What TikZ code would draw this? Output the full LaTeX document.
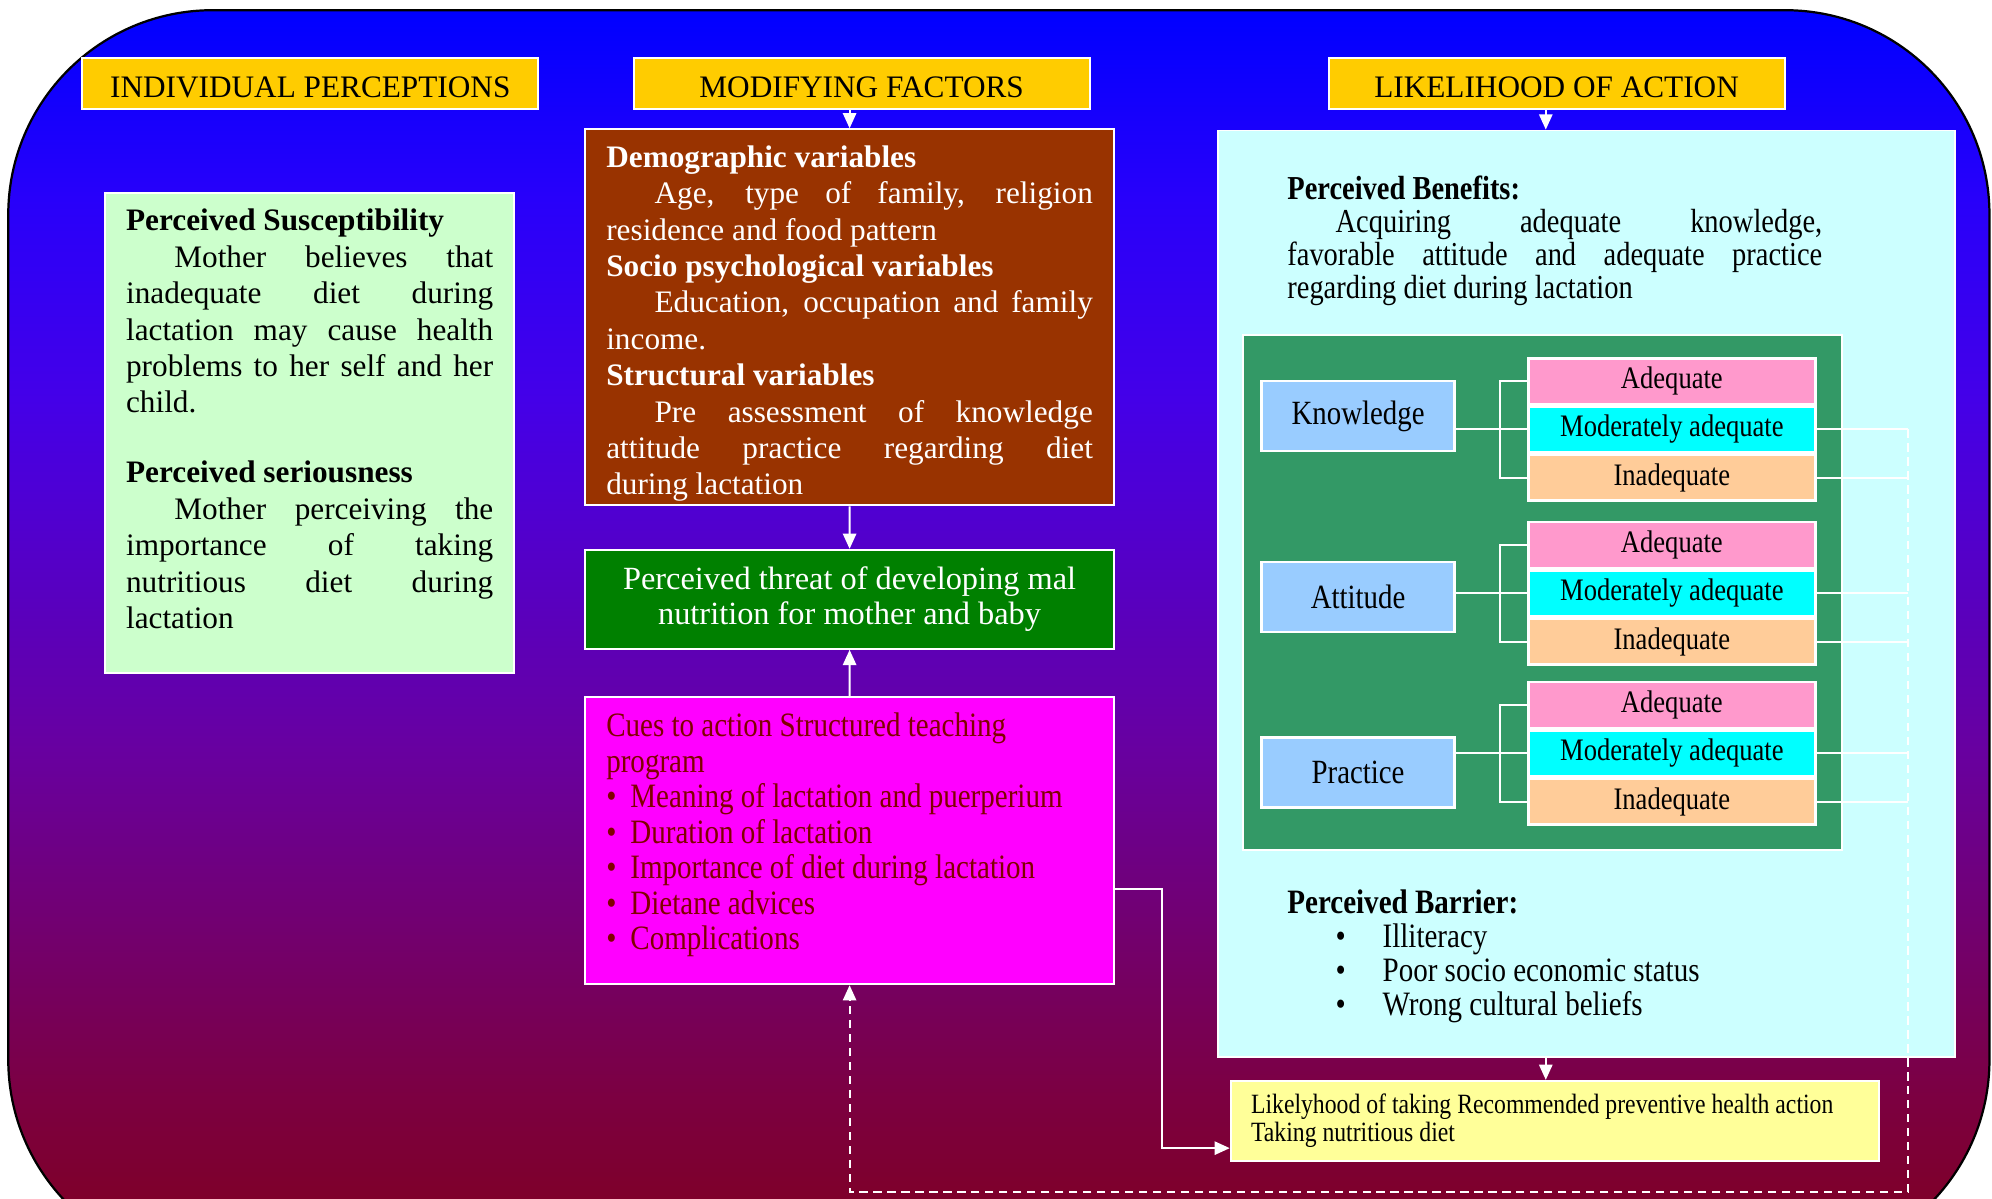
\documentclass[tikz,border=0pt]{standalone}
\usepackage{fontspec}
\setmainfont{Liberation Serif}
\newfontfamily\narrowrm{Liberation Serif}[FakeStretch=0.85]
\usepackage{tikz}
\usetikzlibrary{positioning,arrows.meta}
\definecolor{bgcol0}{RGB}{0,0,255}
\definecolor{bgcol1}{RGB}{40,0,250}
\definecolor{bgcol2}{RGB}{68,0,232}
\definecolor{bgcol3}{RGB}{104,0,160}
\definecolor{bgcol4}{RGB}{124,0,64}
\definecolor{bgcol5}{RGB}{126,0,42}
\definecolor{bgcol6}{RGB}{128,0,32}
\definecolor{hdrcol}{HTML}{FFCC00}
\definecolor{suscol}{HTML}{CCFFCC}
\definecolor{modcol}{HTML}{993300}
\definecolor{thrcol}{HTML}{008000}
\definecolor{cuecol}{HTML}{FF00FF}
\definecolor{cuetxt}{HTML}{800000}
\definecolor{likcol}{HTML}{CCFFFF}
\definecolor{pancol}{HTML}{339966}
\definecolor{faccol}{HTML}{99CCFF}
\definecolor{adqcol}{HTML}{FF99CC}
\definecolor{mdqcol}{HTML}{00FFFF}
\definecolor{inqcol}{HTML}{FFCC99}
\definecolor{actcol}{HTML}{FFFF99}
\pgfdeclareverticalshading{bgshade}{100bp}{color(0bp)=(bgcol6); color(25bp)=(bgcol6);
  color(27.5bp)=(bgcol5); color(31.5bp)=(bgcol4); color(45.5bp)=(bgcol3);
  color(59.5bp)=(bgcol2); color(67.5bp)=(bgcol1); color(75bp)=(bgcol0); color(100bp)=(bgcol0)}
\newcommand{\narrowsize}[2]{\narrowrm\fontsize{#1}{#2}\selectfont}
\newcommand{\cuebul}{\makebox[3.8mm][l]{\textbullet}}
\newcommand{\barbul}{\hspace*{7.6mm}\makebox[7.4mm][l]{\textbullet}}

\begin{document}
\begin{tikzpicture}[x=0.2mm,y=-0.2mm,
   hdr/.style={draw=white,line width=0.3mm,fill=hdrcol,minimum width=71.8mm,
              minimum height=8mm,inner sep=0pt,text height=4.4mm,text depth=0pt,
              font=\fontsize{14}{16}\selectfont},
   tbox/.style={draw=white,line width=0.3mm,inner ysep=0pt,align=justify,
              font=\fontsize{14}{16.3}\selectfont},
   area/.style={draw=white,line width=0.3mm,inner sep=0pt,anchor=north west},
   txt/.style={inner sep=0pt,anchor=base west,align=justify,font=\narrowsize{15}{14.8}},
   fac/.style={draw=white,line width=0.4mm,fill=faccol,minimum width=30.4mm,
              minimum height=11mm,font=\narrowsize{15.2}{16}},
   opt/.style={draw=white,line width=0.4mm,minimum width=45.2mm,minimum height=7.2mm,
              inner sep=0pt,font=\narrowsize{14}{16}},
   wire/.style={draw=white,line width=0.3mm},
   >={Triangle[width=2.1mm,length=2.4mm]},
]
\tolerance=10000 \hbadness=10000

% background
\useasboundingbox (0,0) rectangle (1568,943);
\begin{scope}
\clip (0,0) rectangle (1568,943);
\shadedraw[shading=bgshade,draw=black,line width=0.35mm,rounded corners=32.2mm]
      (6.5,8) rectangle (1566,995);
\end{scope}

% column headers
\node[hdr,anchor=north west] (hIP) at (64,45)   {INDIVIDUAL PERCEPTIONS};
\node[hdr,anchor=north west] (hMF) at (498,45)  {MODIFYING FACTORS};
\node[hdr,anchor=north west] (hLA) at (1045,45) {LIKELIHOOD OF ACTION};

% individual perceptions
\node[tbox,fill=suscol,anchor=north west,text width=57.8mm,inner xsep=3.3mm,
      text height=6mm,text depth=69.6mm] (sus) at (82,151)
  {\textbf{Perceived Susceptibility}\par
   \hspace*{7.6mm}Mother believes that\linebreak inadequate diet during\linebreak
   lactation may cause health\linebreak problems to her self and her\linebreak child.\par
   \vspace{5.3mm}
   \textbf{Perceived seriousness}\par
   \hspace*{7.6mm}Mother perceiving the\linebreak importance of taking\linebreak
   nutritious diet during\linebreak lactation};

% modifying factors
\node[tbox,fill=modcol,text=white,anchor=north west,text width=76.6mm,inner xsep=3.3mm,
      text height=6mm,text depth=53.2mm] (mod) at (460,101)
  {\textbf{Demographic variables}\par
   \hspace*{7.6mm}Age, type of family, religion\linebreak residence and food pattern\par
   \textbf{Socio psychological variables}\par
   \hspace*{7.6mm}Education, occupation and family\linebreak income.\par
   \textbf{Structural variables}\par
   \hspace*{7.6mm}Pre assessment of knowledge\linebreak attitude practice regarding diet\linebreak
   during lactation};
\node[tbox,fill=thrcol,text=white,align=center,anchor=north west,minimum width=83.2mm,
      minimum height=15.6mm,font=\fontsize{14.5}{15.9}\selectfont] (thr) at (460,432)
  {Perceived threat of developing mal\\nutrition for mother and baby};
\node[tbox,fill=cuecol,text=cuetxt,anchor=north west,text width=76.6mm,
      inner xsep=3.3mm,text height=6.2mm,text depth=39mm,
      font=\narrowsize{15.3}{15.9}] (cues) at (460,548)
  {Cues to action Structured teaching\par program\par
   \cuebul Meaning of lactation and puerperium\par
   \cuebul Duration of lactation\par
   \cuebul Importance of diet during lactation\par
   \cuebul Dietane advices\par
   \cuebul Complications};

% likelihood of action
\node[area,fill=likcol,minimum width=116mm,minimum height=145.8mm] (lik) at (958,102) {};
\node[txt,text width=84.2mm] (ben) at (1013,157)
  {\textbf{Perceived Benefits:}\par
   \hspace*{7.6mm}Acquiring adequate knowledge,\linebreak
   favorable attitude and adequate practice\linebreak regarding diet during lactation};
\node[area,fill=pancol,minimum width=94.2mm,minimum height=81mm] (pan) at (978,263) {};

\node[fac] (know) at (1069,327.5) {Knowledge};
\node[fac] (att)  at (1069,470)   {Attitude};
\node[fac] (prac) at (1069,608)   {Practice};

\node[opt,fill=adqcol,anchor=north west] (know-ad) at (1202,281) {Adequate};
\node[opt,fill=mdqcol,below=0mm of know-ad]  (know-mod) {Moderately adequate};
\node[opt,fill=inqcol,below=0mm of know-mod] (know-in)  {Inadequate};
\node[opt,fill=adqcol,anchor=north west] (att-ad) at (1202,410) {Adequate};
\node[opt,fill=mdqcol,below=0mm of att-ad]   (att-mod)  {Moderately adequate};
\node[opt,fill=inqcol,below=0mm of att-mod]  (att-in)   {Inadequate};
\node[opt,fill=adqcol,anchor=north west] (prac-ad) at (1202,536) {Adequate};
\node[opt,fill=mdqcol,below=0mm of prac-ad]  (prac-mod) {Moderately adequate};
\node[opt,fill=inqcol,below=0mm of prac-mod] (prac-in)  {Inadequate};

\node[txt,text width=80mm,font=\narrowsize{15.3}{15.3}] (bar) at (1013,719)
  {\textbf{Perceived Barrier:}\par
   \barbul Illiteracy\par
   \barbul Poor socio economic status\par
   \barbul Wrong cultural beliefs};

\node[tbox,fill=actcol,anchor=north west,text width=95.6mm,inner xsep=3.2mm,
      text height=5.2mm,text depth=7.4mm,font=\narrowsize{12.5}{12.5}] (act) at (968,850)
  {Likelyhood of taking Recommended preventive health action\par Taking nutritious diet};

% arrows down the middle column
\draw[wire,->] (hMF.south -| mod.north) -- (mod.north);
\draw[wire,->] (mod.south) -- (thr.north);
\draw[wire,->] (cues.north) -- (thr.south);
\draw[wire,->] ([xshift=-1.7mm]hLA.south) -- ([xshift=-1.7mm]hLA.south |- lik.north);
\draw[wire,->] ([xshift=-1.4mm]act.north |- lik.south) -- ([xshift=-1.4mm]act.north);
\draw[wire,->] ([yshift=-7.6mm]cues.east) -- ++(7.4mm,0) |- ([yshift=-4.3mm]act.west);

% brackets to the ratings
\draw[wire] (know.east |- know-mod.west) -- (know-mod.west);
\draw[wire] (know-ad.west) -- ++(-4.2mm,0) |- (know-in.west);
\draw[wire] (att.east |- att-mod.west) -- (att-mod.west);
\draw[wire] (att-ad.west) -- ++(-4.2mm,0) |- (att-in.west);
\draw[wire] (prac.east |- prac-mod.west) -- (prac-mod.west);
\draw[wire] (prac-ad.west) -- ++(-4.2mm,0) |- (prac-in.west);

% feedback loop
\coordinate (rail) at (1502,938);
\draw[wire] (know-mod.east) -- (know-mod.east -| rail);
\draw[wire] (know-in.east)  -- (know-in.east -| rail);
\draw[wire] (att-mod.east)  -- (att-mod.east -| rail);
\draw[wire] (att-in.east)   -- (att-in.east -| rail);
\draw[wire] (prac-mod.east) -- (prac-mod.east -| rail);
\draw[wire] (prac-in.east)  -- (prac-in.east -| rail);
\draw[wire,dash pattern=on 1.3mm off 0.9mm,->] (know-mod.east -| rail) -- (rail)
      -- (rail -| cues.south) -- (cues.south);
\end{tikzpicture}
\end{document}
